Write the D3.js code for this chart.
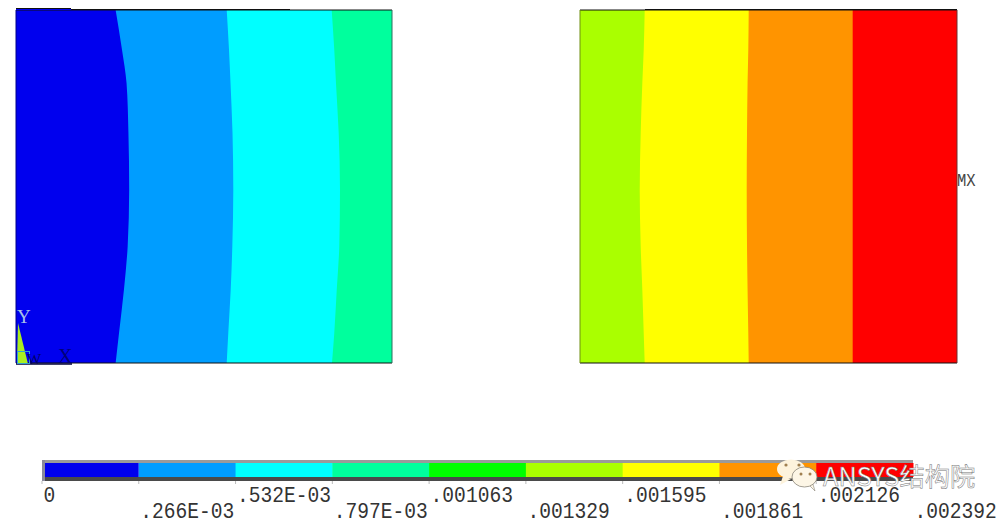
<!DOCTYPE html>
<html><head><meta charset="utf-8">
<script src="https://cdn.jsdelivr.net/npm/d3@7/dist/d3.min.js"></script>
<style>html,body{margin:0;padding:0;background:#fff;overflow:hidden}svg{display:block}</style>
</head><body><svg id="c" width="1007" height="519"></svg>
<script>
// ANSYS contour bands: values of the legend
const tickLabels = ["0",".266E-03",".532E-03",".797E-03",".001063",".001329",".001595",".001861",".002126",".002392"];
const bandColors = ["#0000ee","#009dff","#00ffff","#00ff9d","#00ff00","#aaff00","#ffff00","#ff9400","#ff0000"];
// contour boundary x (model units, 0..1 in each plate) sampled at y stations
const yStations = [0,0.085,0.207,0.331,0.49,0.652,0.793,0.887,1];
const leftEdges = [
  [0.265,0.274,0.287,0.297,0.301,0.299,0.294,0.282,0.265],
  [0.5604,0.5646,0.571,0.5753,0.5779,0.5758,0.5705,0.5665,0.5604],
  [0.8404,0.8465,0.853,0.8598,0.8617,0.8582,0.851,0.8465,0.8396]
];
const rightEdges = [
  [0.1716,0.169,0.1653,0.161,0.1584,0.161,0.1653,0.169,0.1716],
  [0.4475,0.4464,0.4445,0.443,0.4422,0.443,0.4445,0.4464,0.4475],
  [0.7233,0.7233,0.7233,0.7233,0.7233,0.7233,0.7233,0.7233,0.7233]
];
const leftBands = [0,1,2,3];
const rightBands = [5,6,7,8];
const labelMX = "MX";

const svg = d3.select("#c");
const y = d3.scaleLinear().domain([0,1]).range([363,10]);
const mono = "'Liberation Mono',monospace", serif = "'Liberation Serif',serif";

function plate(x0,x1,edges,bands,leftCol,rightCol){
  const x = d3.scaleLinear().domain([0,1]).range([x0,x1]);
  const g = svg.append("g");
  const all = [yStations.map(()=>0),...edges];
  const area = d3.area().curve(d3.curveMonotoneY)
    .y(d=>y(d.y)).x0(d=>x(d.a)).x1(()=>x(1));
  // painted left to right, each band running to the plate's right edge, so no seams show
  bands.forEach((b,i)=>{
    const pts = yStations.map((s,j)=>({y:s,a:all[i][j]}));
    g.append("path").attr("d",area(pts)).attr("fill",bandColors[b]);
  });
  g.append("line").attr("x1",x0).attr("x2",x1).attr("y1",y(1)).attr("y2",y(1)).attr("stroke","#111");
  g.append("line").attr("x1",x0).attr("x2",x1).attr("y1",y(0)).attr("y2",y(0)).attr("stroke","#111");
  g.append("line").attr("x1",x0).attr("x2",x0).attr("y1",y(1)).attr("y2",y(0)).attr("stroke",leftCol);
  g.append("line").attr("x1",x1).attr("x2",x1).attr("y1",y(1)).attr("y2",y(0)).attr("stroke",rightCol);
}
plate(16,392,leftEdges,leftBands,"#00008a","#2f6f5f");
plate(580,957,rightEdges,rightBands,"#6f8f10","#6a3030");

// slight stair-steps of the screenshot's frame, top-left of the left plate
svg.append("rect").attr("x",16).attr("y",8).attr("width",55).attr("height",2).attr("fill",bandColors[0]);
svg.append("line").attr("x1",16).attr("x2",71).attr("y1",8.5).attr("y2",8.5).attr("stroke","#111");
svg.append("line").attr("x1",71).attr("x2",290).attr("y1",9.5).attr("y2",9.5).attr("stroke","#111");
svg.append("line").attr("x1",645).attr("x2",957).attr("y1",9.5).attr("y2",9.5).attr("stroke","#111");

// legend
const lx = d3.scaleBand().domain(d3.range(bandColors.length)).range([42,913]);
const legend = svg.append("g");
legend.append("rect").attr("x",42).attr("y",460).attr("width",871).attr("height",3).attr("fill","#9a9a9a");
legend.append("rect").attr("x",42).attr("y",477).attr("width",871).attr("height",4).attr("fill","#4a4a4a");
legend.append("rect").attr("x",42).attr("y",460).attr("width",3).attr("height",21).attr("fill","#8a8a9a");
legend.selectAll("rect.b").data(bandColors).join("rect").attr("class","b")
  .attr("x",(d,i)=>i===0?45:lx(i)).attr("y",463)
  .attr("width",(d,i)=>i===0?lx.step()-3:lx.step()+0.5).attr("height",14).attr("fill",d=>d);
legend.selectAll("line.t").data(tickLabels.slice(0,-1)).join("line").attr("class","t")
  .attr("x1",(d,i)=>lx(i)).attr("x2",(d,i)=>lx(i)).attr("y1",481).attr("y2",484).attr("stroke","#bbb");
legend.selectAll("text").data(tickLabels).join("text")
  .attr("transform",(d,i)=>`translate(${(i===9?913:lx(i))+1.5},${i%2?518:502}) scale(1,1.15)`)
  .attr("font-family",mono).attr("font-size",19.6).attr("fill","#333").text(d=>d);

// MX label
svg.append("text").attr("transform","translate(957,186) scale(1,1.2)")
  .attr("font-family",mono).attr("font-size",15.5).attr("fill","#444").text(labelMX);

// triad
const triad = svg.append("g");
triad.append("path").attr("d",d3.line()([[18,323],[17,364],[28,364]])).attr("fill","#aaee22");
triad.append("line").attr("x1",16).attr("x2",72).attr("y1",364).attr("y2",364).attr("stroke","#00003a").attr("stroke-width",1.5);
triad.append("rect").attr("x",17.5).attr("y",351.5).attr("width",12).attr("height",12).attr("fill","none").attr("stroke","#30a0d0");
triad.append("text").attr("x",17).attr("y",323).attr("font-family",serif).attr("font-size",19).attr("fill","#a8c0e8").text("Y");
triad.append("text").attr("x",58).attr("y",363).attr("font-family",serif).attr("font-size",20).attr("fill","#00007a").text("X");
triad.append("text").attr("x",27).attr("y",364).attr("font-family",serif).attr("font-size",15).attr("fill","#00006a").text("W");

// watermark
const wm = svg.append("g");
wm.append("path").attr("d","M783 476 L780 485 L791 479Z").attr("fill","#fdf3dc");
wm.append("ellipse").attr("cx",791).attr("cy",469).attr("rx",14).attr("ry",9.5).attr("fill","#fdf3dc");
wm.append("ellipse").attr("cx",786).attr("cy",465).attr("rx",1.6).attr("ry",1.6).attr("fill","#a08050");
wm.append("ellipse").attr("cx",799).attr("cy",465).attr("rx",1.6).attr("ry",1.6).attr("fill","#a08050");
wm.append("path").attr("d","M808 484 L815 491 L812 481Z").attr("fill","#fdf6e6").attr("stroke","#8a8578").attr("stroke-width",0.6);
wm.append("ellipse").attr("cx",804.5).attr("cy",477).attr("rx",12.5).attr("ry",10).attr("fill","#fdf6e6").attr("stroke","#8a8578").attr("stroke-width",0.8);
wm.append("ellipse").attr("cx",801).attr("cy",474).attr("rx",1.5).attr("ry",1.5).attr("fill","#a08050");
wm.append("ellipse").attr("cx",810).attr("cy",474).attr("rx",1.5).attr("ry",1.5).attr("fill","#a08050");
wm.append("text").attr("x",823).attr("y",486).attr("font-family","'Noto Sans CJK SC',sans-serif").attr("font-size",25.3).attr("fill","#fff").attr("stroke","#777").attr("stroke-width",0.5).text("ANSYS结构院");
</script></body></html>
